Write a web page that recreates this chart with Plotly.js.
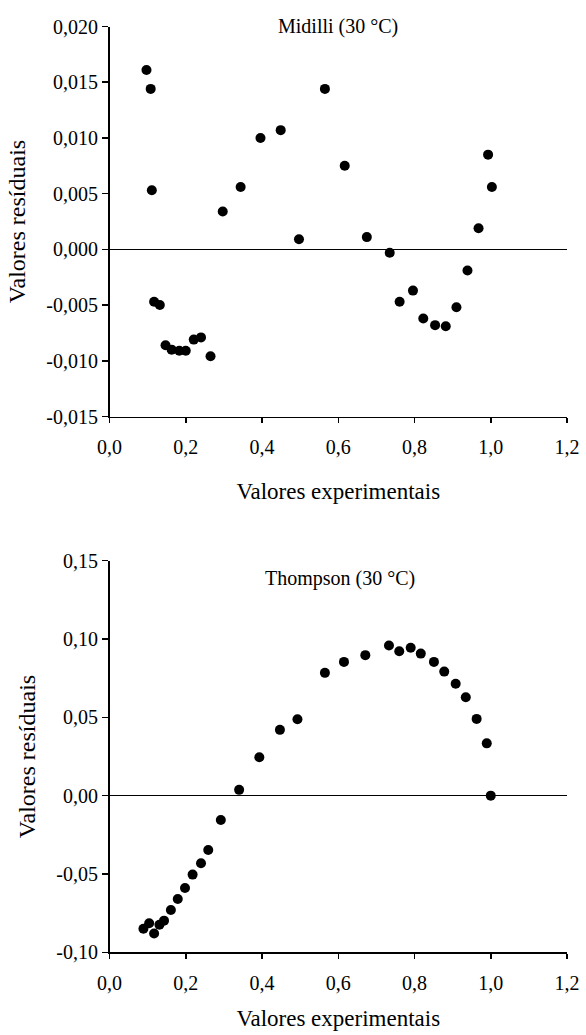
<!DOCTYPE html>
<html>
<head>
<meta charset="utf-8">
<script src="https://cdn.plot.ly/plotly-3.0.1.min.js"></script>
<style>html,body{margin:0;padding:0;background:#fff;}#chart{width:586px;height:1035px;}</style>
</head>
<body>
<div id="chart"></div>
<script>
// Midilli (30 °C) residuals
const midilliX = [0.097, 0.108, 0.111, 0.117, 0.132, 0.147, 0.163, 0.183, 0.200, 0.221, 0.240, 0.265, 0.297, 0.344, 0.396, 0.449, 0.497, 0.565, 0.617, 0.675, 0.735, 0.761, 0.796, 0.823, 0.854, 0.882, 0.910, 0.939, 0.968, 0.993, 1.003];
const midilliY = [0.0161, 0.0144, 0.0053, -0.0047, -0.0050, -0.0086, -0.0090, -0.0091, -0.0091, -0.0081, -0.0079, -0.0096, 0.0034, 0.0056, 0.0100, 0.0107, 0.0009, 0.0144, 0.0075, 0.0011, -0.0003, -0.0047, -0.0037, -0.0062, -0.0068, -0.0069, -0.0052, -0.0019, 0.0019, 0.0085, 0.0056];

// Thompson (30 °C) residuals
const thompsonX = [0.089, 0.104, 0.117, 0.131, 0.143, 0.161, 0.179, 0.198, 0.218, 0.240, 0.259, 0.292, 0.340, 0.393, 0.447, 0.493, 0.565, 0.615, 0.671, 0.733, 0.760, 0.790, 0.8165, 0.851, 0.878, 0.908, 0.9345, 0.963, 0.9895, 1.000];
const thompsonY = [-0.0850, -0.0815, -0.0880, -0.0824, -0.0798, -0.0730, -0.0660, -0.0589, -0.0504, -0.0432, -0.0347, -0.0155, 0.0037, 0.0245, 0.0420, 0.0488, 0.0784, 0.0854, 0.0897, 0.0959, 0.0922, 0.0944, 0.0907, 0.0854, 0.0792, 0.0714, 0.0628, 0.0490, 0.0334, 0.0000];

// Tick labels
const xTickVals = [0, 0.2, 0.4, 0.6, 0.8, 1.0, 1.2];
const xTickText = ["0,0", "0,2", "0,4", "0,6", "0,8", "1,0", "1,2"];
const y1TickVals = [-0.015, -0.010, -0.005, 0, 0.005, 0.010, 0.015, 0.020];
const y1TickText = ["-0,015", "-0,010", "-0,005", "0,000", "0,005", "0,010", "0,015", "0,020"];
const y2TickVals = [-0.10, -0.05, 0, 0.05, 0.10, 0.15];
const y2TickText = ["-0,10", "-0,05", "0,00", "0,05", "0,10", "0,15"];

const titles = ["Midilli (30 °C)", "Thompson (30 °C)"];
const xTitle = "Valores experimentais";
const yTitle = "Valores resíduais";

const FONT = "Liberation Serif, Times New Roman, serif";
const marker = {color: "#000", size: 10};

const traces = [
  {x: midilliX, y: midilliY, type: "scatter", mode: "markers", marker: marker, xaxis: "x", yaxis: "y", hoverinfo: "x+y"},
  {x: thompsonX, y: thompsonY, type: "scatter", mode: "markers", marker: marker, xaxis: "x2", yaxis: "y2", hoverinfo: "x+y"}
];

const W = 586, H = 1035;
const xd = [109.5 / W, 567 / W];
const y1d = [1 - 416.5 / H, 1 - 26.5 / H];
const y2d = [1 - 952.3 / H, 1 - 560.7 / H];

function xAxis(anchor, standoff) {
  return {
    domain: xd, anchor: anchor, range: [0, 1.2],
    tickmode: "array", tickvals: xTickVals, ticktext: xTickText,
    ticks: "outside", ticklen: 5, tickwidth: 1.5, tickcolor: "#000",
    showline: true, linecolor: "#000", linewidth: 1.5,
    showgrid: false, zeroline: false, automargin: false,
    ticklabelstandoff: 7,
    tickfont: {family: FONT, size: 20, color: "#000"},
    title: {text: xTitle, font: {family: FONT, size: 23, color: "#000"}, standoff: standoff}
  };
}
function yAxis(anchor, range, vals, text) {
  return {
    domain: anchor === "x" ? y1d : y2d, anchor: anchor, range: range,
    tickmode: "array", tickvals: vals, ticktext: text,
    ticks: "outside", ticklen: 6, tickwidth: 1.5, tickcolor: "#000",
    showline: true, linecolor: "#000", linewidth: 1.5,
    showgrid: false, zeroline: true, zerolinecolor: "#000", zerolinewidth: 1.5,
    automargin: false,
    tickfont: {family: FONT, size: 20, color: "#000"},
    title: {text: yTitle, font: {family: FONT, size: 24, color: "#000"}, standoff: 14}
  };
}

const layout = {
  width: W, height: H,
  margin: {l: 0, r: 0, t: 0, b: 0},
  paper_bgcolor: "#fff", plot_bgcolor: "#fff",
  showlegend: false,
  separators: ",.",
  font: {family: FONT, color: "#000"},
  xaxis: xAxis("y", 26),
  yaxis: yAxis("x", [-0.015, 0.020], y1TickVals, y1TickText),
  xaxis2: xAxis("y2", 17),
  yaxis2: yAxis("x2", [-0.10, 0.15], y2TickVals, y2TickText),
  annotations: [
    {text: titles[0], xref: "paper", yref: "paper", x: 338 / W, y: 1 - 27 / H, xanchor: "center", yanchor: "middle", showarrow: false, font: {family: FONT, size: 20, color: "#000"}},
    {text: titles[1], xref: "paper", yref: "paper", x: 340 / W, y: 1 - 578 / H, xanchor: "center", yanchor: "middle", showarrow: false, font: {family: FONT, size: 20, color: "#000"}}
  ]
};

Plotly.newPlot("chart", traces, layout, {staticPlot: true, displayModeBar: false});
</script>
</body>
</html>
